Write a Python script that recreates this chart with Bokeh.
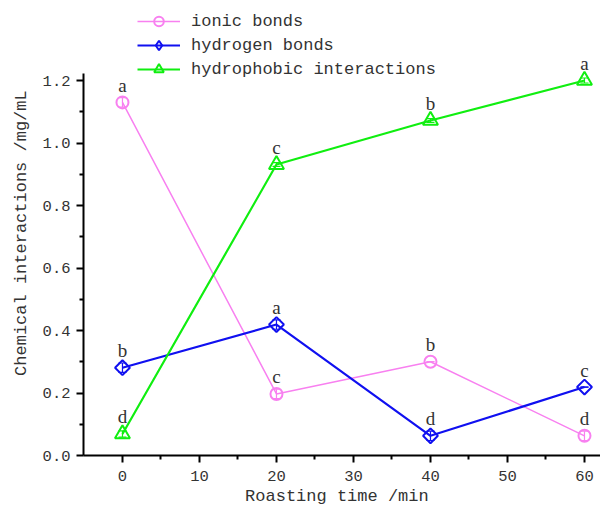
import math
from bokeh.plotting import figure
from bokeh.models import (FixedTicker, Whisker, ColumnDataSource, Legend,
                          LegendItem, TeeHead)
from bokeh.core.properties import value
from bokeh.embed import file_html
from bokeh.resources import INLINE

# ---------------- data ----------------
time_min = [0, 20, 40, 60]
ionic = [1.13, 0.197, 0.30, 0.063]
hydrogen = [0.281, 0.419, 0.063, 0.219]
hydrophobic = [0.069, 0.931, 1.072, 1.20]
ionic_err = [0.015, 0.015, 0.0, 0.015]
hydrogen_err = [0.015, 0.015, 0.015, 0.0]
hydrophobic_err = [0.01, 0.006, 0.006, 0.008]
ionic_sig = ["a", "c", "b", "d"]
hydrogen_sig = ["b", "a", "d", "c"]
hydrophobic_sig = ["d", "c", "b", "a"]
series_names = ["ionic bonds", "hydrogen bonds", "hydrophobic interactions"]
x_ticks = [0, 10, 20, 30, 40, 50, 60]
y_ticks = [0.0, 0.2, 0.4, 0.6, 0.8, 1.0, 1.2]
y_tick_labels = ["0.0", "0.2", "0.4", "0.6", "0.8", "1.0", "1.2"]
x_title = "Roasting time  /min"
y_title = "Chemical interactions  /mg/mL"

SERIF = value("Liberation Serif")
TXT = "#333333"
FONT = "Liberation Mono"
NAN = float("nan")

p = figure(width=600, height=509, x_range=(-5.06, 62.08), y_range=(0, 1.456),
           output_backend="svg", toolbar_location=None,
           min_border_left=83, min_border_right=0, min_border_top=0,
           min_border_bottom=54)
p.outline_line_color = None
p.background_fill_color = "white"
p.border_fill_color = "white"
p.xgrid.visible = False
p.ygrid.visible = False
p.yaxis.bounds = (0, 1.222)

p.xaxis.ticker = FixedTicker(ticks=x_ticks, minor_ticks=[5, 15, 25, 35, 45, 55])
p.yaxis.ticker = FixedTicker(ticks=y_ticks, minor_ticks=[0.1, 0.3, 0.5, 0.7, 0.9, 1.1])
p.yaxis.major_label_overrides = {t: l for t, l in zip(y_ticks, y_tick_labels)}
for ax in (p.xaxis[0], p.yaxis[0]):
    ax.axis_line_width = 2
    ax.axis_line_color = "black"
    ax.major_tick_line_width = 2
    ax.minor_tick_line_width = 2
    ax.major_tick_line_color = "black"
    ax.minor_tick_line_color = "black"
    ax.major_tick_out = 7
    ax.major_tick_in = 0
    ax.minor_tick_out = 4
    ax.minor_tick_in = 0
    ax.major_label_text_font = FONT
    ax.major_label_text_font_size = "15.5px"
    ax.major_label_text_color = TXT
    ax.axis_label_text_font = FONT
    ax.axis_label_text_font_size = "17px"
    ax.axis_label_text_font_style = "normal"
    ax.axis_label_text_color = TXT
p.xaxis.major_label_standoff = 8
p.yaxis.major_label_standoff = 6
p.xaxis.axis_label = x_title
p.xaxis.axis_label_standoff = 3
p.yaxis.axis_label = y_title
p.yaxis.axis_label_standoff = 9

colors = ["#F880F0", "#1010F0", "#10EE10"]
widths = [1.5, 2.2, 2.2]
series = [ionic, hydrogen, hydrophobic]
errs = [ionic_err, hydrogen_err, hydrophobic_err]
sigs = [ionic_sig, hydrogen_sig, hydrophobic_sig]
markers = [("circle", 12, 0.0), ("square", 10.5, math.pi / 4), ("triangle", 15, 0.0)]
legend_markers = [("circle", 12), ("diamond", 18), ("triangle", 15)]

items = []
for name, ys, er, sg, col, lw, (mk, ms, ang), (lmk, lms) in zip(
        series_names, series, errs, sigs, colors, widths, markers, legend_markers):
    src = ColumnDataSource(dict(x=time_min, y=ys,
                                lo=[a - b for a, b in zip(ys, er)],
                                hi=[a + b for a, b in zip(ys, er)],
                                sig=sg))
    ln = p.line("x", "y", source=src, line_color=col, line_width=lw)
    p.scatter("x", "y", source=src, marker=mk, size=ms, angle=ang,
              fill_color="white", fill_alpha=0.0, line_color=col, line_width=2)
    # legend-only proxy glyph (a single NaN point, never drawn in the plot)
    proxy = p.scatter(x=[NAN], y=[NAN], marker=lmk, size=lms, fill_color="white",
                      fill_alpha=0.0, line_color=col, line_width=2)
    wh = Whisker(base="x", lower="lo", upper="hi", source=src, line_color=col,
                 line_width=1.2,
                 lower_head=TeeHead(size=8, line_color=col, line_width=1.2),
                 upper_head=TeeHead(size=8, line_color=col, line_width=1.2))
    p.add_layout(wh)
    p.text("x", "y", text="sig", source=src, text_font=SERIF, text_font_size="19px",
           text_color=TXT, text_align="center", text_baseline="alphabetic",
           y_offset=-17)
    items.append(LegendItem(label=name, renderers=[ln, proxy]))

legend = Legend(items=items, location=(54, 374), padding=0, margin=0,
                border_line_color=None, background_fill_alpha=0.0,
                label_text_font=FONT, label_text_font_size="17px",
                label_text_color=TXT, glyph_width=43, glyph_height=24,
                label_height=24, label_standoff=11, spacing=0)
p.add_layout(legend, "center")

open("out.html", "w").write(file_html(p, INLINE))
